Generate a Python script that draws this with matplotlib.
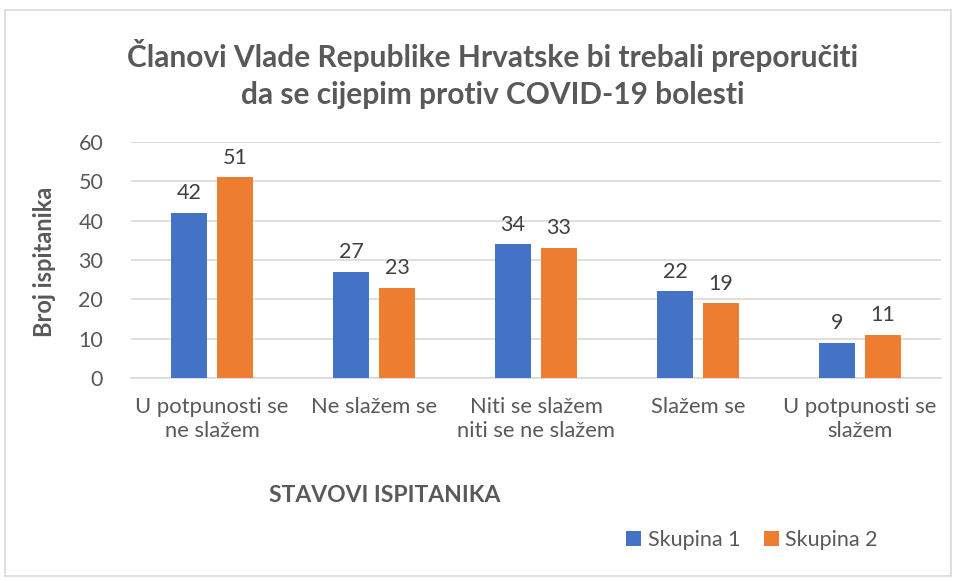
import matplotlib.pyplot as plt
import numpy as np
from matplotlib.patches import Rectangle

plt.rcParams['font.family'] = ['Lato', 'DejaVu Sans']

categories = ['U potpunosti se\nne slažem', 'Ne slažem se', 'Niti se slažem\nniti se ne slažem',
              'Slažem se', 'U potpunosti se\nslažem']
skupina_1 = [42, 27, 34, 22, 9]
skupina_2 = [51, 23, 33, 19, 11]
series_names = ['Skupina 1', 'Skupina 2']
y_ticks = [0, 10, 20, 30, 40, 50, 60]

blue = '#4472C4'
orange = '#ED7D31'
text_gray = '#595959'

W, H = 958, 581
fig = plt.figure(figsize=(W / 100, H / 100), dpi=100)
fig.patches.append(Rectangle((5 / W, 5 / H), 946 / W, 566 / H, transform=fig.transFigure,
                             fill=False, edgecolor='#D9D9D9', linewidth=1.2))

ax = fig.add_axes([131 / W, 1 - 378 / H, 810 / W, 236 / H])
x = np.arange(len(categories))
bw = 0.222
off = 0.142
b1 = ax.bar(x - off, skupina_1, bw, color=blue, label=series_names[0], zorder=3)
b2 = ax.bar(x + off, skupina_2, bw, color=orange, label=series_names[1], zorder=3)
for bars in (b1, b2):
    ax.bar_label(bars, padding=7, fontsize=15.5, color='#404040')

ax.set_xlim(-0.5, len(categories) - 0.5)
ax.set_ylim(0, 60)
ax.set_yticks(y_ticks)
ax.set_xticks(x)
ax.set_xticklabels(categories, fontsize=15.8, color=text_gray, linespacing=1.2)
ax.tick_params(axis='both', length=0, colors=text_gray)
ax.tick_params(axis='y', labelsize=15.5, pad=20)
ax.tick_params(axis='x', pad=14)
ax.grid(axis='y', color='#D9D9D9', linewidth=1.2, zorder=0)
for s in ['top', 'right', 'left']:
    ax.spines[s].set_visible(False)
ax.spines['bottom'].set_color('#D9D9D9')
ax.spines['bottom'].set_linewidth(1.2)

fig.text(493 / W, 1 - 74 / H,
         'Članovi Vlade Republike Hrvatske bi trebali preporučiti\nda se cijepim protiv COVID-19 bolesti',
         ha='center', va='center', fontsize=21.5, fontweight='bold', color=text_gray, linespacing=1.35)
fig.text(45 / W, 1 - 262 / H, 'Broj ispitanika', rotation=90, ha='center', va='center',
         fontsize=17, fontweight='bold', color=text_gray)
fig.text(385 / W, 1 - 495 / H, 'STAVOVI ISPITANIKA', ha='center', va='center',
         fontsize=16.5, fontweight='bold', color=text_gray)

fig.legend(loc='center', bbox_to_anchor=(752 / W, 1 - 540 / H), ncol=2, frameon=False,
           fontsize=15.5, labelcolor=text_gray, handlelength=0.7, handleheight=0.7,
           handletextpad=0.3, columnspacing=1.1)

fig.savefig('out.png', dpi=100)
